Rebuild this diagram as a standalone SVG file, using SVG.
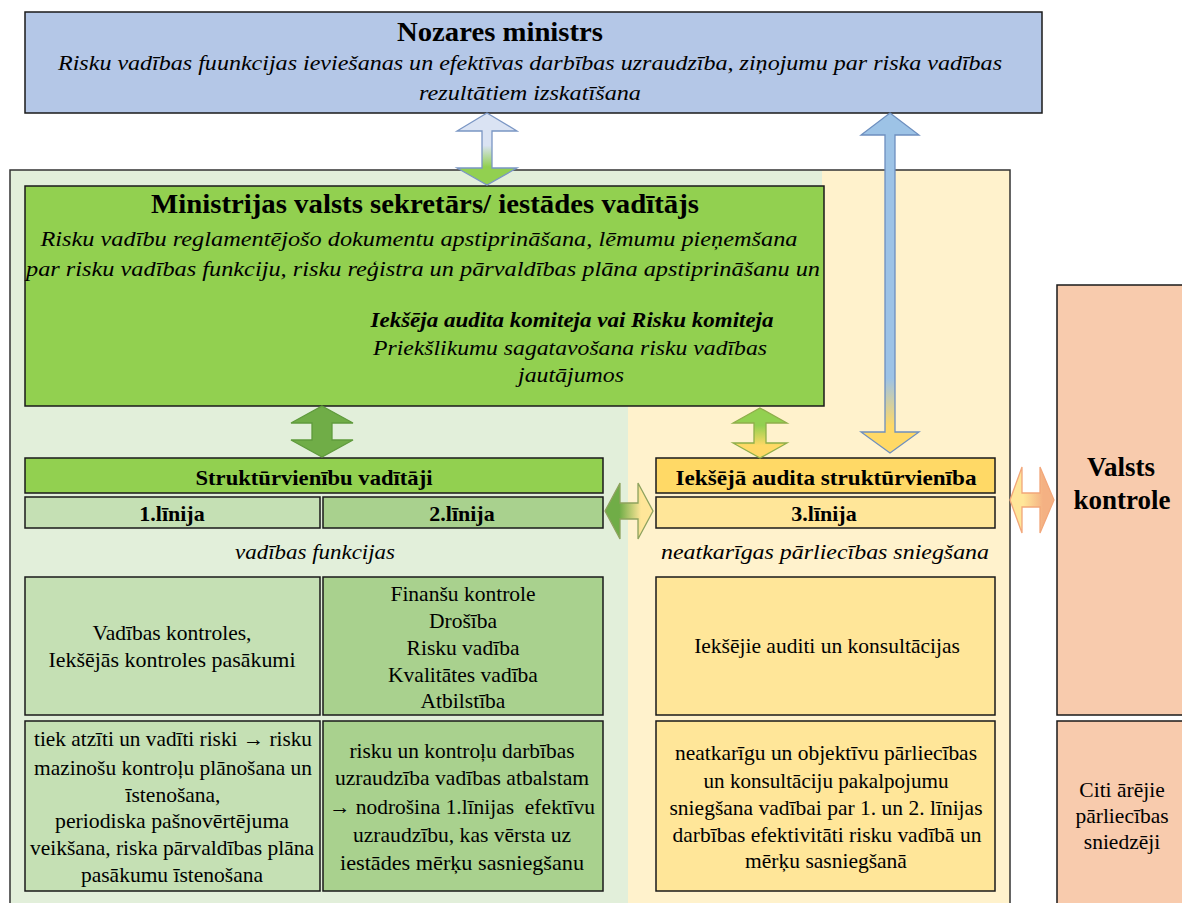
<svg xmlns="http://www.w3.org/2000/svg" width="1182" height="903" viewBox="0 0 1182 903" font-family="'Liberation Serif', 'DejaVu Serif', 'Times New Roman', serif">
<style>
text{font-family:'Liberation Serif','DejaVu Serif','Times New Roman',serif;fill:#000;text-anchor:middle}
.t{font-weight:bold;font-size:27px}
.it{font-style:italic;font-size:22px}
.bi{font-style:italic;font-weight:bold;font-size:21px}
.hb{font-weight:bold;font-size:22px}
.b{font-size:21.5px}
.box{stroke:#1a1a1a;stroke-width:1.5}
</style>
<defs>
<linearGradient id="gA" x1="0" y1="0" x2="0" y2="1"><stop offset="0" stop-color="#dae3f3"/><stop offset="0.45" stop-color="#dae3f3"/><stop offset="0.75" stop-color="#92d050"/><stop offset="1" stop-color="#92d050"/></linearGradient>
<linearGradient id="gB" x1="0" y1="0" x2="0" y2="1"><stop offset="0" stop-color="#9dc3e6"/><stop offset="0.78" stop-color="#9dc3e6"/><stop offset="0.92" stop-color="#ffd966"/><stop offset="1" stop-color="#ffd966"/></linearGradient>
<linearGradient id="gC" x1="0" y1="0" x2="0" y2="1"><stop offset="0" stop-color="#92d050"/><stop offset="0.35" stop-color="#92d050"/><stop offset="0.75" stop-color="#ffd966"/><stop offset="1" stop-color="#ffd966"/></linearGradient>
<linearGradient id="gD" x1="0" y1="0" x2="1" y2="0"><stop offset="0" stop-color="#70ad47"/><stop offset="0.3" stop-color="#70ad47"/><stop offset="0.75" stop-color="#ffe699"/><stop offset="1" stop-color="#ffe699"/></linearGradient>
<linearGradient id="gE" x1="0" y1="0" x2="1" y2="0"><stop offset="0" stop-color="#ffe699"/><stop offset="0.3" stop-color="#ffe699"/><stop offset="0.75" stop-color="#f4b183"/><stop offset="1" stop-color="#f4b183"/></linearGradient>
</defs>

<g id="container">
<rect x="10" y="170" width="1000" height="740" fill="#e2efda"/>
<path d="M822,170 L1010,170 L1010,903 L628,903 L628,406 L822,406 Z" fill="#fff2cc"/>
<rect x="10" y="170" width="1000" height="740" fill="none" stroke="#333" stroke-width="1.5"/>
</g>

<g id="nozares-ministrs">
<rect class="box" x="25" y="12" width="1017" height="101" fill="#b4c7e7"/>
<text class="t" x="500" y="41" textLength="206" lengthAdjust="spacingAndGlyphs">Nozares ministrs</text>
<text class="it" x="530" y="70" textLength="944" lengthAdjust="spacingAndGlyphs">Risku vadības fuunkcijas ieviešanas un efektīvas darbības uzraudzība, ziņojumu par riska vadības</text>
<text class="it" x="530" y="100" textLength="222" lengthAdjust="spacingAndGlyphs">rezultātiem izskatīšana</text>
</g>

<g id="valsts-sekretars">
<rect class="box" x="25" y="186" width="799" height="220" fill="#92d050"/>
<text class="t" x="425" y="213" textLength="548" lengthAdjust="spacingAndGlyphs">Ministrijas valsts sekretārs/ iestādes vadītājs</text>
<text class="it" x="419" y="246" textLength="757" lengthAdjust="spacingAndGlyphs">Risku vadību reglamentējošo dokumentu apstiprināšana, lēmumu pieņemšana</text>
<text class="it" x="423" y="276" textLength="794" lengthAdjust="spacingAndGlyphs">par risku vadības funkciju, risku reģistra un pārvaldības plāna apstiprināšanu un</text>
<text class="bi" x="572" y="327" textLength="403" lengthAdjust="spacingAndGlyphs">Iekšēja audita komiteja vai Risku komiteja</text>
<text class="it" x="570" y="355" textLength="394" lengthAdjust="spacingAndGlyphs">Priekšlikumu sagatavošana risku vadības</text>
<text class="it" x="571" y="382" textLength="106" lengthAdjust="spacingAndGlyphs">jautājumos</text>
</g>

<g id="strukturvienibu-vaditaji">
<rect class="box" x="25" y="458" width="578" height="35" fill="#92d050"/>
<text class="hb" x="314" y="485" textLength="237" lengthAdjust="spacingAndGlyphs">Struktūrvienību vadītāji</text>
</g>

<g id="linija-1">
<rect class="box" x="25" y="497" width="295" height="31" fill="#c5e0b4"/>
<text class="hb" x="172" y="521">1.līnija</text>
</g>

<g id="linija-2">
<rect class="box" x="323" y="497" width="280" height="31" fill="#a9d18e"/>
<text class="hb" x="462" y="521">2.līnija</text>
</g>

<g id="ieksejais-audits">
<rect class="box" x="656" y="458" width="339" height="35" fill="#ffd966"/>
<text class="hb" x="826" y="485" textLength="301" lengthAdjust="spacingAndGlyphs">Iekšējā audita struktūrvienība</text>
</g>

<g id="linija-3">
<rect class="box" x="656" y="497" width="339" height="31" fill="#ffe699"/>
<text class="hb" x="824" y="521">3.līnija</text>
</g>

<g id="label-vadibas-funkcijas">
<text class="it" x="315" y="559" textLength="160" lengthAdjust="spacingAndGlyphs">vadības funkcijas</text>
</g>
<g id="label-neatkarigas">
<text class="it" x="825" y="559" textLength="328" lengthAdjust="spacingAndGlyphs">neatkarīgas pārliecības sniegšana</text>
</g>

<g id="vadibas-kontroles">
<rect class="box" x="25" y="577" width="295" height="138" fill="#c5e0b4"/>
<text class="b" x="172" y="640">Vadības kontroles,</text>
<text class="b" x="172" y="667" textLength="247" lengthAdjust="spacingAndGlyphs">Iekšējās kontroles pasākumi</text>
</g>

<g id="finansu-kontrole">
<rect class="box" x="323" y="577" width="280" height="138" fill="#a9d18e"/>
<text class="b" x="463" y="601">Finanšu kontrole</text>
<text class="b" x="463" y="628">Drošība</text>
<text class="b" x="463" y="655">Risku vadība</text>
<text class="b" x="463" y="682">Kvalitātes vadība</text>
<text class="b" x="463" y="708">Atbilstība</text>
</g>

<g id="ieksejie-auditi">
<rect class="box" x="656" y="577" width="339" height="138" fill="#ffe699"/>
<text class="b" x="827" y="653">Iekšējie auditi un konsultācijas</text>
</g>

<g id="linija-1-apraksts">
<rect class="box" x="25" y="721" width="295" height="170" fill="#c5e0b4"/>
<text class="b" x="173" y="746" textLength="278" lengthAdjust="spacingAndGlyphs">tiek atzīti un vadīti riski → risku</text>
<text class="b" x="173" y="775" textLength="278" lengthAdjust="spacingAndGlyphs">mazinošu kontroļu plānošana un</text>
<text class="b" x="173" y="802">īstenošana,</text>
<text class="b" x="172" y="828" textLength="234" lengthAdjust="spacingAndGlyphs">periodiska pašnovērtējuma</text>
<text class="b" x="172" y="855" textLength="284" lengthAdjust="spacingAndGlyphs">veikšana, riska pārvaldības plāna</text>
<text class="b" x="172" y="882">pasākumu īstenošana</text>
</g>

<g id="linija-2-apraksts">
<rect class="box" x="323" y="721" width="280" height="170" fill="#a9d18e"/>
<text class="b" x="462" y="758" textLength="225" lengthAdjust="spacingAndGlyphs">risku un kontroļu darbības</text>
<text class="b" x="462" y="785" textLength="254" lengthAdjust="spacingAndGlyphs">uzraudzība vadības atbalstam</text>
<text class="b" x="462" y="814" textLength="266" lengthAdjust="spacingAndGlyphs" xml:space="preserve">→ nodrošina 1.līnijas  efektīvu</text>
<text class="b" x="462" y="842" textLength="218" lengthAdjust="spacingAndGlyphs">uzraudzību, kas vērsta uz</text>
<text class="b" x="462" y="870" textLength="244" lengthAdjust="spacingAndGlyphs">iestādes mērķu sasniegšanu</text>
</g>

<g id="linija-3-apraksts">
<rect class="box" x="656" y="721" width="339" height="170" fill="#ffe699"/>
<text class="b" x="826" y="760" textLength="302" lengthAdjust="spacingAndGlyphs">neatkarīgu un objektīvu pārliecības</text>
<text class="b" x="826" y="788" textLength="245" lengthAdjust="spacingAndGlyphs">un konsultāciju pakalpojumu</text>
<text class="b" x="826" y="815" textLength="313" lengthAdjust="spacingAndGlyphs">sniegšana vadībai par 1. un 2. līnijas</text>
<text class="b" x="827" y="842" textLength="309" lengthAdjust="spacingAndGlyphs">darbības efektivitāti risku vadībā un</text>
<text class="b" x="826" y="868">mērķu sasniegšanā</text>
</g>

<g id="valsts-kontrole">
<rect class="box" x="1057" y="285" width="130" height="430" fill="#f8cbad"/>
<text class="t" x="1121" y="476">Valsts</text>
<text class="t" x="1122" y="509">kontrole</text>
</g>

<g id="citi-arejie">
<rect class="box" x="1057" y="721" width="130" height="190" fill="#f8cbad"/>
<text class="b" x="1122" y="797">Citi ārējie</text>
<text class="b" x="1122" y="823">pārliecības</text>
<text class="b" x="1122" y="849">sniedzēji</text>
</g>

<g id="connectors" stroke-width="1.3" stroke-linejoin="miter">
<path d="M487,113 L517,131 L492,131 L492,168 L517,168 L487,185 L457,168 L482,168 L482,131 L457,131 Z" fill="url(#gA)" stroke="#7a96c4"/>
<path d="M890,113 L919,135 L895,135 L895,432 L919,432 L890,453 L861,432 L885,432 L885,135 L861,135 Z" fill="url(#gB)" stroke="#6d8fbf"/>
<path d="M322,406 L353,423 L332,423 L332,440 L353,440 L322,457 L291,440 L312,440 L312,423 L291,423 Z" fill="#70ad47" stroke="#5f9a3c"/>
<path d="M760,408 L787,423 L766,423 L766,443 L787,443 L760,458 L733,443 L754,443 L754,423 L733,423 Z" fill="url(#gC)" stroke="#8fae4a"/>
<path d="M605,511 L620,483 L620,503 L638,503 L638,483 L653,511 L638,539 L638,519 L620,519 L620,539 Z" fill="url(#gD)" stroke="#8ea25e"/>
<path d="M1010,500 L1022,467 L1022,493 L1040,493 L1040,467 L1054,500 L1040,533 L1040,507 L1022,507 L1022,533 Z" fill="url(#gE)" stroke="#f2a77a"/>
</g>
</svg>
